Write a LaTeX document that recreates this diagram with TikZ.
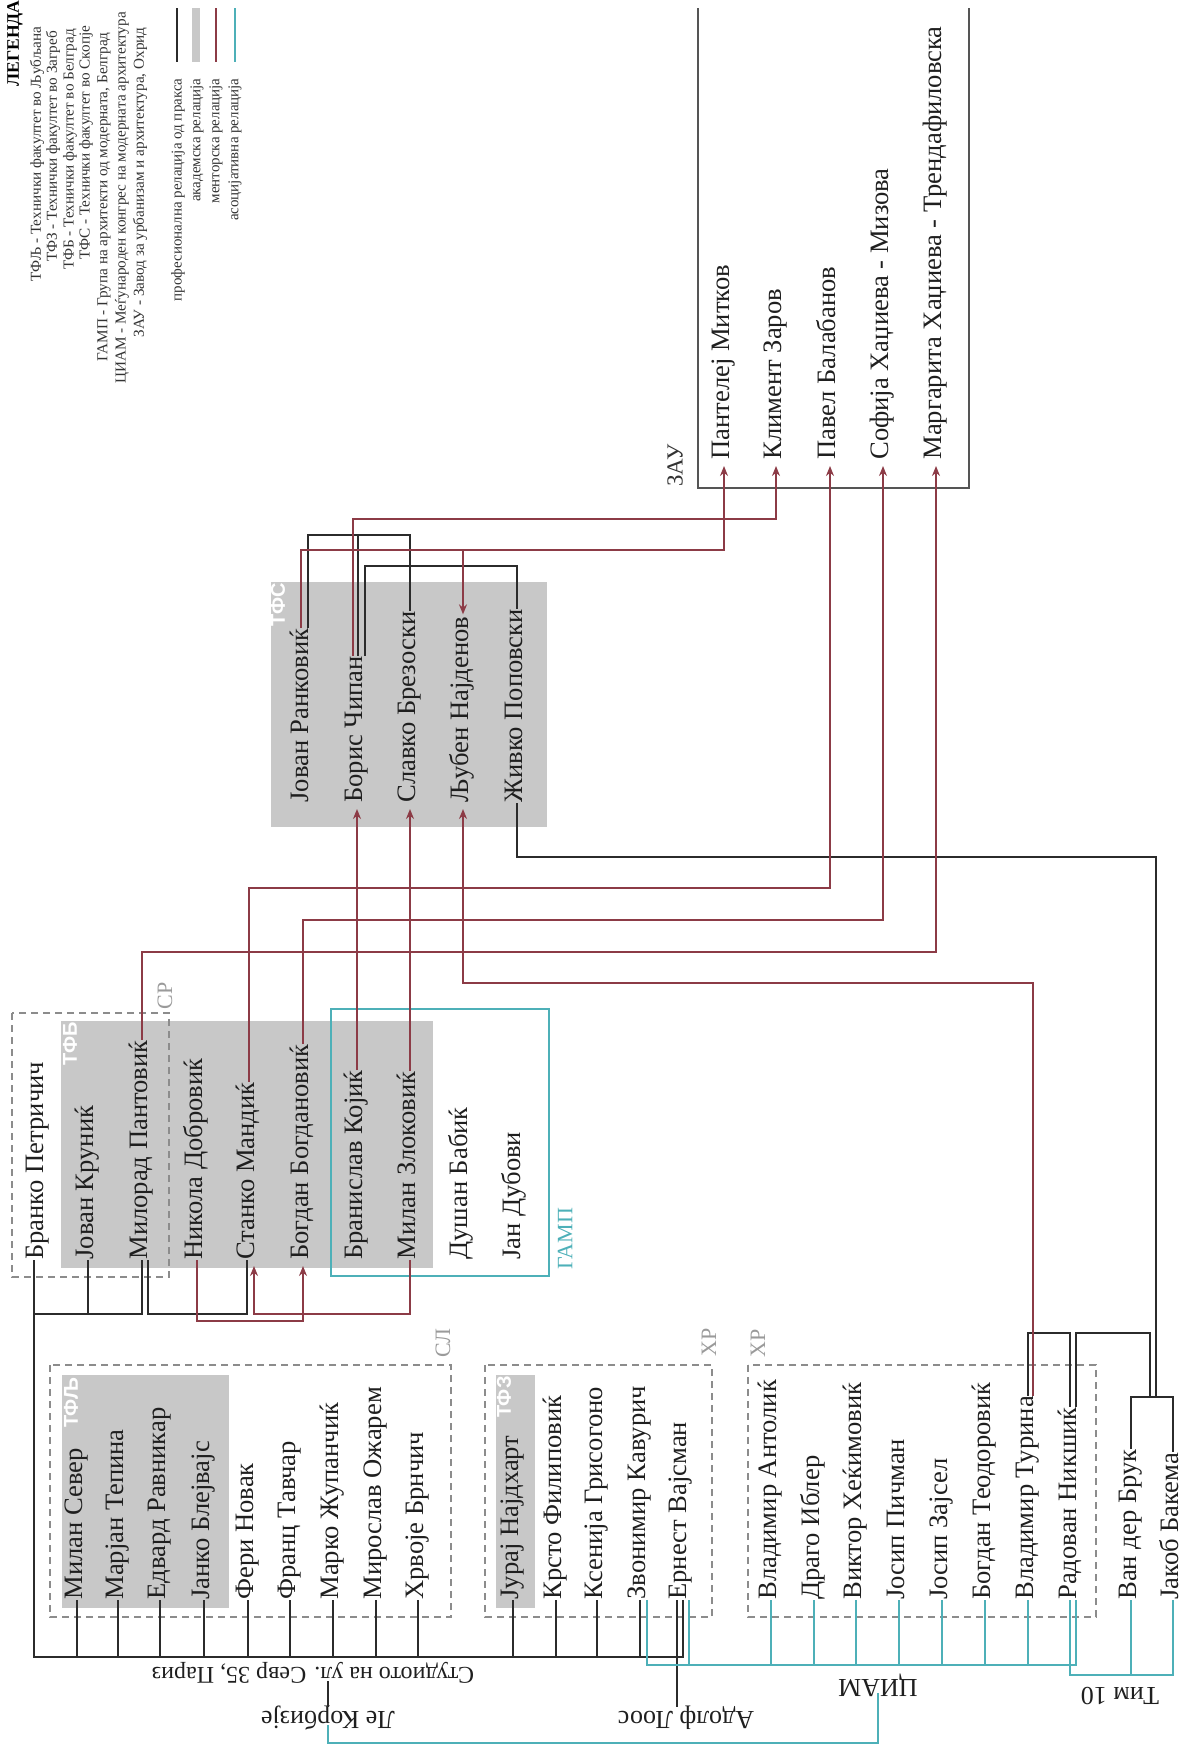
\documentclass[tikz,border=0pt]{standalone}
\usepackage{fontspec}
\setmainfont{Liberation Serif}
\newfontfamily\lsans{Liberation Sans}
\usetikzlibrary{calc,arrows.meta}
\definecolor{profc}{HTML}{2B2B2B}
\definecolor{mentc}{HTML}{8C3B46}
\definecolor{assoc}{HTML}{4DB0B8}
\definecolor{boxg}{HTML}{C8C8C8}
\definecolor{dashg}{HTML}{8C8C8C}
\definecolor{labg}{HTML}{9A9A9A}
\definecolor{zaug}{HTML}{555555}
\definecolor{legc}{HTML}{333333}
\begin{document}
\begin{tikzpicture}[x=0.5pt,y=-0.5pt,
  person/.style={rotate=90,anchor=west,inner sep=0pt,font=\fontsize{13.3}{15}\selectfont,text height=0.7em,text depth=0.2em,text=black!88},
  upsd/.style={rotate=180,inner sep=0pt,font=\fontsize{13}{15}\selectfont,text height=0.7em,text depth=0.2em,text=black!88},
  leg/.style={rotate=90,anchor=west,inner sep=0pt,font=\fontsize{7.6}{9}\selectfont,text=legc},
  legr/.style={rotate=90,anchor=east,inner sep=0pt,font=\fontsize{7.5}{8}\selectfont,text=legc},
  grp/.style={rotate=90,anchor=west,inner sep=0pt,font=\fontsize{11}{12}\selectfont,text=labg},
  tf/.style={rotate=90,anchor=east,inner sep=0pt,font=\fontsize{10}{11}\lsans\bfseries,text=white},
  prof/.style={draw=profc,line width=0.9pt},
  ment/.style={draw=mentc,line width=0.75pt},
  mentar/.style={ment,-{Stealth[length=5pt,width=4pt]}},
  asso/.style={draw=assoc,line width=0.75pt},
  dbox/.style={draw=dashg,line width=0.8pt,dash pattern=on 3.5pt off 2.5pt},
]
\useasboundingbox (0,0) rectangle (1193,1747);

% ---------------- legend ----------------
\node[font=\fontsize{8.8}{10}\selectfont\bfseries,rotate=90,anchor=west,inner sep=0pt] (legt) at (15,87) {ЛЕГЕНДА};
\node[leg] (lg1) at (37,282) {ТФЉ - Технички факултет во Љубљана};
\node[leg] (lg2) at (53,262) {ТФЗ - Технички факултет во Загреб};
\node[leg] (lg3) at (70,270) {ТФБ - Технички факултет во Белград};
\node[leg] (lg4) at (86,260) {ТФС - Технички факултет во Скопје};
\node[leg] (lg5) at (104,362) {ГАМП - Група на архитекти од модерната, Белград};
\node[leg] (lg6) at (122,384) {ЦИАМ - Меѓународен конгрес на модерната архитектура};
\node[leg] (lg7) at (140,338) {ЗАУ - Завод за урбанизам и архитектура, Охрид};
\draw[draw=profc,line width=1.1pt] (177,8) -- (177,62);
\fill[boxg] (192,8) rectangle (200,62);
\draw[draw=mentc,line width=1.1pt] (216,8) -- (216,62);
\draw[draw=assoc,line width=1.1pt] (235,8) -- (235,62);
\node[legr] (lr1) at (178,78) {професионална релација од пракса};
\node[legr] (lr2) at (197,78) {академска релација};
\node[legr] (lr3) at (216,78) {менторска релација};
\node[legr] (lr4) at (235,78) {асоцијативна релација};

% ---------------- boxes ----------------
\draw[draw=zaug,line width=0.8pt] (698,8) -- (698,488) -- (969,488) -- (969,8);
\fill[boxg] (271,582) rectangle (547,827);
\fill[boxg] (61,1021) rectangle (433,1268);
\draw[dbox] (12,1013) rectangle (169,1277);
\draw[asso] (331,1009) rectangle (549,1276);
\fill[boxg] (62,1375) rectangle (229,1608);
\draw[dbox] (50,1365) rectangle (451,1617);
\fill[boxg] (496,1375) rectangle (535,1608);
\draw[dbox] (485,1365) rectangle (712,1617);
\draw[dbox] (748,1365) rectangle (1096,1617);

% ---------------- group labels ----------------
\node[font=\fontsize{11.5}{12}\selectfont,rotate=90,anchor=west,inner sep=0pt,text=legc] (lzau) at (675,487) {ЗАУ};
\node[tf] (ltfs) at (278,583) {ТФС};
\node[tf] (ltfb) at (70,1022) {ТФБ};
\node[grp] (lsr) at (165,1010) {СР};
\node[grp,text=assoc] (lgamp) at (565,1270) {ГАМП};
\node[grp] (lsl) at (443,1358) {СЛ};
\node[tf] (ltfl) at (71,1377) {ТФЉ};
\node[grp] (lhr1) at (709,1357) {ХР};
\node[tf] (ltfz) at (504,1376) {ТФЗ};
\node[grp] (lhr2) at (758,1358) {ХР};

% ---------------- people ----------------
\node[person] (zau1) at (724,460) {Пантелеј Митков};
\node[person] (zau2) at (776,460) {Климент Заров};
\node[person] (zau3) at (830,460) {Павел Балабанов};
\node[person] (zau4) at (883,460) {Софија Хаџиева - Мизова};
\node[person] (zau5) at (936,460) {Маргарита Хаџиева - Трендафиловска};

\node[person] (tfs1) at (303,803) {Јован Ранковиќ};
\node[person] (tfs2) at (357,803) {Борис Чипан};
\node[person] (tfs3) at (410,803) {Славко Брезоски};
\node[person] (tfs4) at (463,803) {Љубен Најденов};
\node[person] (tfs5) at (517,803) {Живко Поповски};

\node[person] (b1) at (38,1260) {Бранко Петричич};
\node[person] (b2) at (88,1260) {Јован Круниќ};
\node[person] (b3) at (142,1260) {Милорад Пантовиќ};
\node[person] (b4) at (197,1260) {Никола Добровиќ};
\node[person] (b5) at (249,1260) {Станко Мандиќ};
\node[person] (b6) at (303,1260) {Богдан Богдановиќ};
\node[person] (b7) at (357,1260) {Бранислав Којиќ};
\node[person] (b8) at (410,1260) {Милан Злоковиќ};
\node[person] (b9) at (462,1260) {Душан Бабиќ};
\node[person] (b10) at (515,1260) {Јан Дубови};

\node[person] (l1) at (77,1600) {Милан Север};
\node[person] (l2) at (118,1600) {Марјан Тепина};
\node[person] (l3) at (160,1600) {Едвард Равникар};
\node[person] (l4) at (204,1600) {Јанко Блејвајс};
\node[person] (l5) at (248,1600) {Фери Новак};
\node[person] (l6) at (290,1600) {Франц Тавчар};
\node[person] (l7) at (333,1600) {Марко Жупанчиќ};
\node[person] (l8) at (376,1600) {Мирослав Ожарем};
\node[person] (l9) at (418,1600) {Хрвоје Брнчич};

\node[person] (z1) at (513,1600) {Јурај Најдхарт};
\node[person] (z2) at (556,1600) {Крсто Филиповиќ};
\node[person] (z3) at (597,1600) {Ксенија Грисогоно};
\node[person] (z4) at (640,1600) {Звонимир Кавурич};
\node[person] (z5) at (681,1600) {Ернест Вајсман};

\node[person] (c1) at (771,1600) {Владимир Антолиќ};
\node[person] (c2) at (814,1600) {Драго Иблер};
\node[person] (c3) at (856,1600) {Виктор Хеќимовиќ};
\node[person] (c4) at (899,1600) {Јосип Пичман};
\node[person] (c5) at (942,1600) {Јосип Зајсел};
\node[person] (c6) at (985,1600) {Богдан Теодоровиќ};
\node[person] (c7) at (1028,1600) {Владимир Турина};
\node[person] (c8) at (1071,1600) {Радован Никшиќ};

\node[person] (t1) at (1131,1600) {Ван дер Брук};
\node[person] (t2) at (1173,1600) {Јакоб Бакема};

\node[upsd,font=\fontsize{12}{14}\selectfont] (st) at (313,1672) {Студиото на ул. Севр 35, Париз};
\node[upsd] (lk) at (328,1716) {Ле Корбизје};
\node[upsd] (al) at (686,1716) {Адолф Лоос};
\node[upsd] (ciam) at (878,1684) {ЦИАМ};
\node[upsd] (tim) at (1120,1692) {Тим 10};

% ---------------- helper attach points ----------------
\coordinate (j1r) at ($(tfs1.east)+(-2,0)$);
\coordinate (j1k) at ($(tfs1.east)+(5,0)$);
\coordinate (b2r) at ($(tfs2.east)+(-4,0)$);
\coordinate (b2k) at ($(tfs2.east)+(1,0)$);
\coordinate (b2k2) at ($(tfs2.east)+(8,0)$);
\coordinate (bk1) at ($(b1.west)+(-4,0)$);
\coordinate (b3k) at ($(b3.west)+(6,0)$);
\coordinate (b5k) at ($(b5.west)+(-2,0)$);
\coordinate (c7r) at ($(c7.east)+(5,0)$);
\coordinate (c8a) at ($(c8.east)+(-1,0)$);
\coordinate (c8b) at ($(c8.east)+(5,0)$);
\coordinate (c8a2) at ($(c8.west)+(-1,0)$);
\coordinate (c8b2) at ($(c8.west)+(5,0)$);
\coordinate (z4c) at ($(z4.west)+(7,0)$);
\coordinate (z5l) at ($(z5.west)+(-4,0)$);
\coordinate (z5k) at ($(z5.west)+(2,0)$);
\coordinate (z5c) at ($(z5.west)+(8,0)$);
\coordinate (timj) at (1156,1397);
\coordinate (timj2) at (1150,1397);

% ---------------- professional (black) ----------------
\draw[prof] (bk1) -- (bk1 |- 0,1657) -| (z5k);
\foreach \n in {l1,l2,l3,l4,l5,l6,l7,l8,l9,z1,z2,z3,z4}
  \draw[prof] (\n.west) -- (\n.west |- 0,1657);
\draw[prof] (bk1 |- 0,1314) -| (b3.west);
\draw[prof] (b2.west) -- (b2.west |- 0,1314);
\draw[prof] (b3k) -- (b3k |- 0,1314) -| (b5k);
\draw[prof] (j1k) -- (j1k |- 0,535) -| (tfs3.east);
\draw[prof] (b2k) -- (b2k |- 0,535);
\draw[prof] (b2k2) -- (b2k2 |- 0,566) -| (tfs5.east);
\draw[prof] (tfs5.west) |- (timj |- 0,857) -- (timj);
\draw[prof] (t1.east) -- (t1.east |- timj) -| (t2.east);
\draw[prof] (c7.east) -- (c7.east |- 0,1333) -| (c8a);
\draw[prof] (c8b) -- (c8b |- 0,1333) -| (timj2);
\draw[prof] (z5l) -- (z5l |- al.south);
\draw[prof] (lk.south) -- (lk.south |- st.north);

% ---------------- mentor (red) ----------------
\draw[mentar] (j1r) -- (j1r |- 0,550) -| ($(zau1.west)+(0,6)$);
\draw[mentar] (tfs4.east |- 0,550) -- ($(tfs4.east)+(0,-2)$);
\draw[mentar] (b2r) -- (b2r |- 0,519) -| ($(zau2.west)+(0,6)$);
\draw[mentar] (b5.east) -- (b5.east |- 0,888) -| ($(zau3.west)+(0,6)$);
\draw[mentar] (b6.east) -- (b6.east |- 0,920) -| ($(zau4.west)+(0,6)$);
\draw[mentar] (b3.east) -- (b3.east |- 0,952) -| ($(zau5.west)+(0,6)$);
\draw[mentar] (b7.east) -- ($(tfs2.west)+(0,6)$);
\draw[mentar] (b8.east) -- ($(tfs3.west)+(0,6)$);
\draw[mentar] (c7r) -- (c7r |- 0,983) -| ($(tfs4.west)+(0,6)$);
\draw[mentar] (b4.west) -- (b4.west |- 0,1321) -| ($(b6.west)+(0,6)$);
\draw[mentar] (b8.west) -- (b8.west |- 0,1314) -| ($(b5.west)+(5,6)$);

% ---------------- associative (cyan) ----------------
\draw[asso] (z4c) -- (z4c |- 0,1665) -| (c8b2);
\draw[asso] (z5c) -- (z5c |- 0,1665);
\foreach \n in {c1,c2,c3,c4,c5,c6,c7}
  \draw[asso] (\n.west) -- (\n.west |- 0,1665);
\draw[asso] (c8a2) -- (c8a2 |- 0,1675) -| (t2.west);
\draw[asso] (t1.west) -- (t1.west |- 0,1675);
\draw[asso] (ciam.north) -- (ciam.north |- 0,1743) -| (lk.north);
\end{tikzpicture}
\end{document}
